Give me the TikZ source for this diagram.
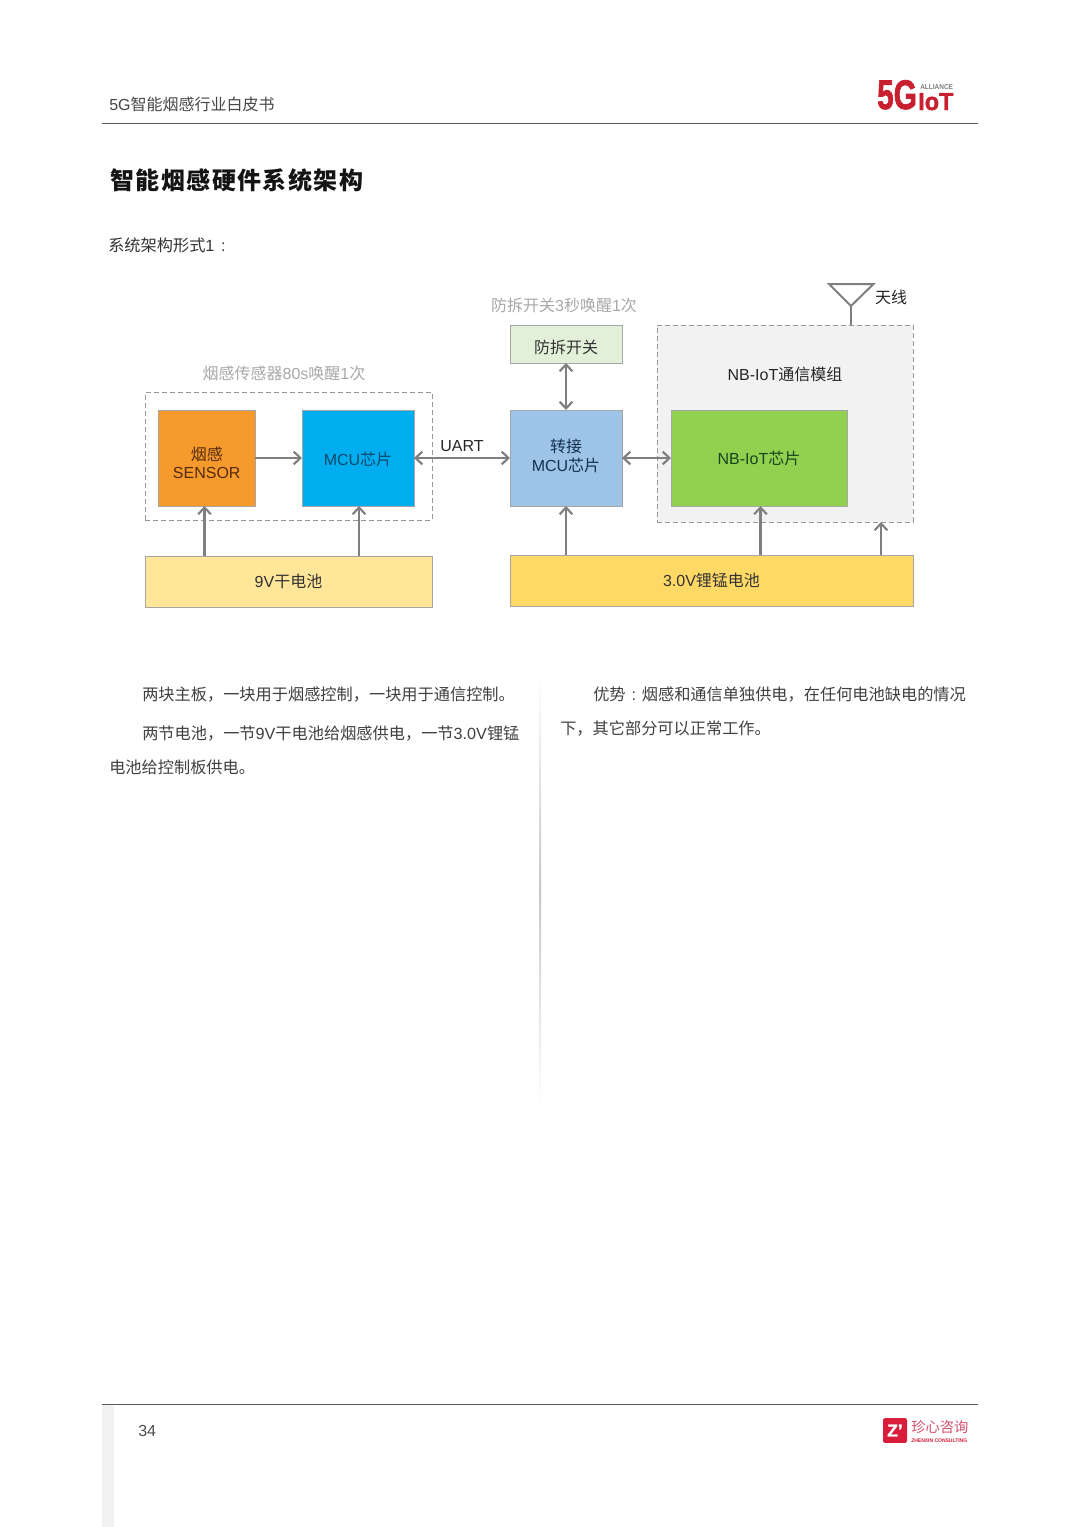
\documentclass[tikz,border=0pt]{standalone}
\usepackage{fontspec}
\usetikzlibrary{arrows.meta}
\setmainfont{Liberation Sans}
\newfontfamily\cj{Noto Sans CJK SC}
\newcommand{\zh}[1]{{\cj #1}}
\newcommand{\fs}[1]{\fontsize{#1}{#1}\selectfont}
\newcommand{\zcolon}{\makebox[1em][c]{:}}
\newcommand{\twolines}[2]{{\fontsize{12pt}{13.6pt}\selectfont\begin{tabular}{@{}c@{}}#1\\#2\end{tabular}}}
\newcommand{\pushdown}[2]{\raisebox{0pt}[\dimexpr\height+#1\relax][\depth]{#2}}
\definecolor{arrowgray}{HTML}{7F7F7F}
\definecolor{edgegray}{HTML}{A6A6A6}
\definecolor{dashgray}{HTML}{999999}
\definecolor{capgray}{HTML}{A8A8A8}
\definecolor{bodytext}{HTML}{404040}
\definecolor{logored}{HTML}{C8202F}
\definecolor{zred}{HTML}{D81E3A}
\tikzset{
  x=0.75pt,y=-0.75pt,
  box/.style n args={2}{draw=edgegray,line width=0.75pt,inner sep=0pt,outer sep=0pt,align=center,
     minimum width=#1*0.75pt,minimum height=#2*0.75pt,font=\fs{12pt}},
  dashbox/.style n args={2}{draw=dashgray,line width=0.75pt,dash pattern=on 3.4pt off 2.6pt,inner sep=0pt,outer sep=0pt,
     minimum width=#1*0.75pt,minimum height=#2*0.75pt},
  conn/.style={draw=arrowgray,line width=1.9pt},
  onearrow/.style={conn,-{Straight Barb[length=5pt,width=9.5pt,line width=1.6pt]}},
  twoarrow/.style={conn,{Straight Barb[length=5pt,width=9.5pt,line width=1.6pt]}-{Straight Barb[length=5pt,width=9.5pt,line width=1.6pt]}},
  bodyline/.style={anchor=base west,inner sep=0pt,text=bodytext,font=\fs{12.15pt}},
  caption/.style={inner sep=0pt,text=capgray,font=\fs{12pt}},
  label/.style={inner sep=0pt,text=black!85,font=\fs{12pt}},
  rule/.style={draw=black!65,line width=0.7pt},
}
\begin{document}
\begin{tikzpicture}
\useasboundingbox[fill=white] (0,0) rectangle (1080,1527);

% header
\node[anchor=base west,inner sep=0pt,text=black!72,font=\fs{12pt}] (head) at (109,110) {5G\zh{智能烟感行业白皮书}};
\coordinate (hl) at (102,123.5); \coordinate (hr) at (978,123.5);
\draw[rule] (hl) -- (hr);
\node[anchor=base west,inner sep=0pt,text=logored,xscale=0.72,font=\bfseries\fs{31pt}] (logoa) at (877,109)
  {\addfontfeature{FakeBold=2}5G};
\node[anchor=base west,inner sep=0pt,text=logored,xscale=0.95,font=\bfseries\fs{18.5pt}] (logob) at (918,110)
  {\addfontfeature{FakeBold=1.5}IoT};
\node[anchor=base west,inner sep=0pt,text=black!50,xscale=0.9,font=\bfseries\fs{5.4pt}] (logoc) at (920,89.5) {ALLIANCE};

% title
\node[anchor=base west,inner sep=0pt,text=black!92] (title) at (110,189)
  {\cj\bfseries\fs{18pt}\addfontfeature{LetterSpace=6}智能烟感硬件系统架构};
\node[bodyline,text=black!80] (sub) at (108,251) {\zh{系统架构形式}1\hspace{.05em}\zcolon};

% dashed groups
\node[dashbox={287}{127.5}] (groupL) at (288.5,456.25) {};
\node[dashbox={256}{197},fill=black!5] (groupR) at (785,423.5) {};

% boxes
\node[box={96.5}{96},fill={rgb,255:red,247;green,154;blue,46},text={rgb,255:red,84;green,44;blue,14}] (sensor) at (206.75,458) {\pushdown{11pt}{\twolines{\zh{烟感}}{SENSOR}}};
\node[box={112}{96},fill={rgb,255:red,0;green,174;blue,239},text={rgb,255:red,10;green,72;blue,108}] (mcu) at (358,458) {\pushdown{2.2pt}{MCU\zh{芯片}}};
\node[box={287}{51},fill={rgb,255:red,255;green,230;blue,153},text=black!80] (batA) at (288.5,581.5) {9V\zh{干电池}};
\node[box={112}{38},fill={rgb,255:red,226;green,239;blue,217},text=black!80] (tamper) at (566,344) {\pushdown{4.5pt}{\zh{防拆开关}}};
\node[box={112}{96},fill={rgb,255:red,157;green,195;blue,230},text={rgb,255:red,20;green,50;blue,80}] (bridge) at (566,458) {\twolines{\zh{转接}}{MCU\zh{芯片}}};
\node[box={176}{96},fill={rgb,255:red,146;green,208;blue,80},text={rgb,255:red,20;green,70;blue,30}] (chip) at (759,458) {NB-IoT\zh{芯片}};
\node[box={403}{51},fill={rgb,255:red,255;green,217;blue,102},text=black!80] (batB) at (711.5,580.5) {3.0V\zh{锂锰电池}};

% captions and labels
\node[caption] (capL) at (284,373.5) {\zh{烟感传感器}80s\zh{唤醒}1\zh{次}};
\node[caption] (capT) at (564,305.5) {\zh{防拆开关}3\zh{秒唤醒}1\zh{次}};
\node[label] (modlabel) at (785,374.5) {NB-IoT\zh{通信模组}};
\node[label] (uart) at (462,446) {UART};
\node[label] (antlabel) at (891,297.5) {\zh{天线}};

% connectors
\draw[onearrow] (sensor.east) -- (mcu.west);
\draw[twoarrow] (mcu.east) -- (bridge.west);
\draw[twoarrow] (bridge.east) -- (chip.west);
\draw[twoarrow] (tamper.south) -- (bridge.north);
\coordinate (ua) at (204.5,0); \coordinate (ub) at (359,0);
\coordinate (uc) at (760.5,0); \coordinate (ud) at (881,0);
\draw[onearrow] (ua |- batA.north) -- (ua |- sensor.south);
\draw[onearrow] (ub |- batA.north) -- (ub |- mcu.south);
\draw[onearrow] (bridge.south |- batB.north) -- (bridge.south);
\draw[onearrow] (uc |- batB.north) -- (uc |- chip.south);
\draw[onearrow] (ud |- batB.north) -- (ud |- groupR.south);

% antenna
\coordinate (antA) at (829,284); \coordinate (antB) at (873.5,284); \coordinate (antC) at (851,306);
\draw[conn,line width=1.5pt,line join=miter] (antA) -- (antB) -- (antC) -- cycle;
\draw[conn,line width=1.5pt] (antC) -- (antC |- groupR.north);

% body text
\node[bodyline] (t1) at (142,700) {\zh{两块主板，一块用于烟感控制，一块用于通信控制。}};
\node[bodyline] (t2) at (142,739) {\zh{两节电池，一节}9V\zh{干电池给烟感供电，一节}3.0V\zh{锂锰}};
\node[bodyline] (t3) at (109,773) {\zh{电池给控制板供电。}};
\node[bodyline] (t4) at (593,700) {\zh{优势}\zcolon\zh{烟感和通信单独供电，在任何电池缺电的情况}};
\node[bodyline] (t5) at (560,734) {\zh{下，其它部分可以正常工作。}};
\shade[top color=white,bottom color=white,middle color=black!22] (539.5,672) rectangle (541,1106);

% footer
\fill[black!5] (102,1404) rectangle (114,1527);
\coordinate (fl) at (102,1404); \coordinate (fr) at (978,1404);
\draw[rule] (fl) -- (fr);
\node[anchor=base west,inner sep=0pt,text=black!70,font=\fs{12pt}] (page) at (138,1436) {34};
\node[fill=zred,rounded corners=1.5pt,minimum width=18pt,minimum height=18.5pt,inner sep=0pt,text=white,font=\bfseries\fs{13pt}] (zlogo) at (895,1430.5) {\addfontfeature{FakeBold=1.5}Z'};
\node[anchor=base west,inner sep=0pt,text={rgb,255:red,214;green,80;blue,110},font=\fs{10.7pt}] (zname) at (911,1432.5) {\zh{珍心咨询}};
\node[anchor=base west,inner sep=0pt,text=zred,xscale=0.96,font=\bfseries\fs{3.9pt}] (zsub) at (911,1442) {ZHENXIN CONSULTING};
\end{tikzpicture}
\end{document}
